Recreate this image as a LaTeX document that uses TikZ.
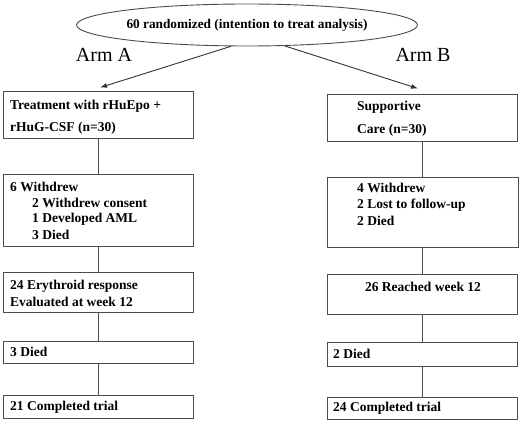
\documentclass[tikz,border=0pt]{standalone}
\usepackage{fontspec}
\setmainfont{Liberation Serif}
\usetikzlibrary{shapes.geometric,arrows.meta}
\begin{document}
\begin{tikzpicture}[x=1pt,y=-1pt,
  frame/.style={draw=black!70,line width=0.9pt,inner sep=0pt,rectangle},
  txt/.style={font=\fontsize{13.5}{15}\selectfont\bfseries,inner sep=0pt,anchor=west},
  arm/.style={font=\fontsize{20}{22}\selectfont,inner sep=0pt},
  link/.style={draw=black!70,line width=0.9pt},
  arr/.style={draw=black!80,line width=0.9pt,-{Latex[length=7pt,width=5pt]}}]
\useasboundingbox (0,0) rectangle (520,422);
% top ellipse
\node[ellipse,draw=black!70,line width=0.9pt,minimum width=291pt,minimum height=42pt,inner sep=0pt,
  font=\fontsize{13.3}{15}\selectfont\bfseries] (ell) at (247,25) {60 randomized (intention to treat analysis)};
\node[arm] (armA) at (104,55) {Arm A};
\node[arm] (armB) at (423,55) {Arm B};
% boxes
\node[frame,minimum width=190pt,minimum height=47pt] (a1) at (98,114.5) {};
\node[frame,minimum width=190pt,minimum height=47pt] (b1) at (422,117.5) {};
\node[frame,minimum width=190pt,minimum height=72pt] (a2) at (98,210) {};
\node[frame,minimum width=191pt,minimum height=70pt] (b2) at (422.5,212) {};
\node[frame,minimum width=190pt,minimum height=40pt] (a3) at (98,292) {};
\node[frame,minimum width=190pt,minimum height=40pt] (b3) at (422,294) {};
\node[frame,minimum width=190pt,minimum height=22pt] (a4) at (98,352) {};
\node[frame,minimum width=190pt,minimum height=24pt] (b4) at (422,354) {};
\node[frame,minimum width=190pt,minimum height=23pt] (a5) at (98,406.5) {};
\node[frame,minimum width=190pt,minimum height=22pt] (b5) at (422,408) {};
% texts
\node[txt] (ta1a) at (10,106) {Treatment with rHuEpo +};
\node[txt] (ta1b) at (10,128) {rHuG-CSF (n=30)};
\node[txt] (tb1a) at (357,107) {Supportive};
\node[txt] (tb1b) at (357,130) {Care (n=30)};
\node[txt] (ta2a) at (10,187) {6 Withdrew};
\node[txt] (ta2b) at (32,203) {2 Withdrew consent};
\node[txt] (ta2c) at (32,219) {1 Developed AML};
\node[txt] (ta2d) at (32,235) {3 Died};
\node[txt] (tb2a) at (357,188) {4 Withdrew};
\node[txt] (tb2b) at (357,205) {2 Lost to follow-up};
\node[txt] (tb2c) at (357,221) {2 Died};
\node[txt] (ta3a) at (10,286) {24 Erythroid response};
\node[txt] (ta3b) at (10,302) {Evaluated at week 12};
\node[txt,anchor=center] (tb3) at (423,287) {26 Reached week 12};
\node[txt] (ta4) at (10,352) {3 Died};
\node[txt] (tb4) at (333,354) {2 Died};
\node[txt] (ta5) at (10,407) {21 Completed trial};
\node[txt] (tb5) at (333,408) {24 Completed trial};
% connectors
\draw[arr] (ell.233) -- ([xshift=2pt,yshift=3pt]a1.north);
\draw[arr] (ell.331) -- ([xshift=-4pt,yshift=5pt]b1.north);
\draw[link] (a1.south) -- (a2.north);
\draw[link] (a2.south) -- (a3.north);
\draw[link] (a3.south) -- (a4.north);
\draw[link] (a4.south) -- (a5.north);
\draw[link] (b1.south) -- (b2.north -| b1.south);
\draw[link] (b2.south -| b1.south) -- (b3.north);
\draw[link] (b3.south) -- (b4.north);
\draw[link] (b4.south) -- (b5.north);
\end{tikzpicture}
\end{document}
